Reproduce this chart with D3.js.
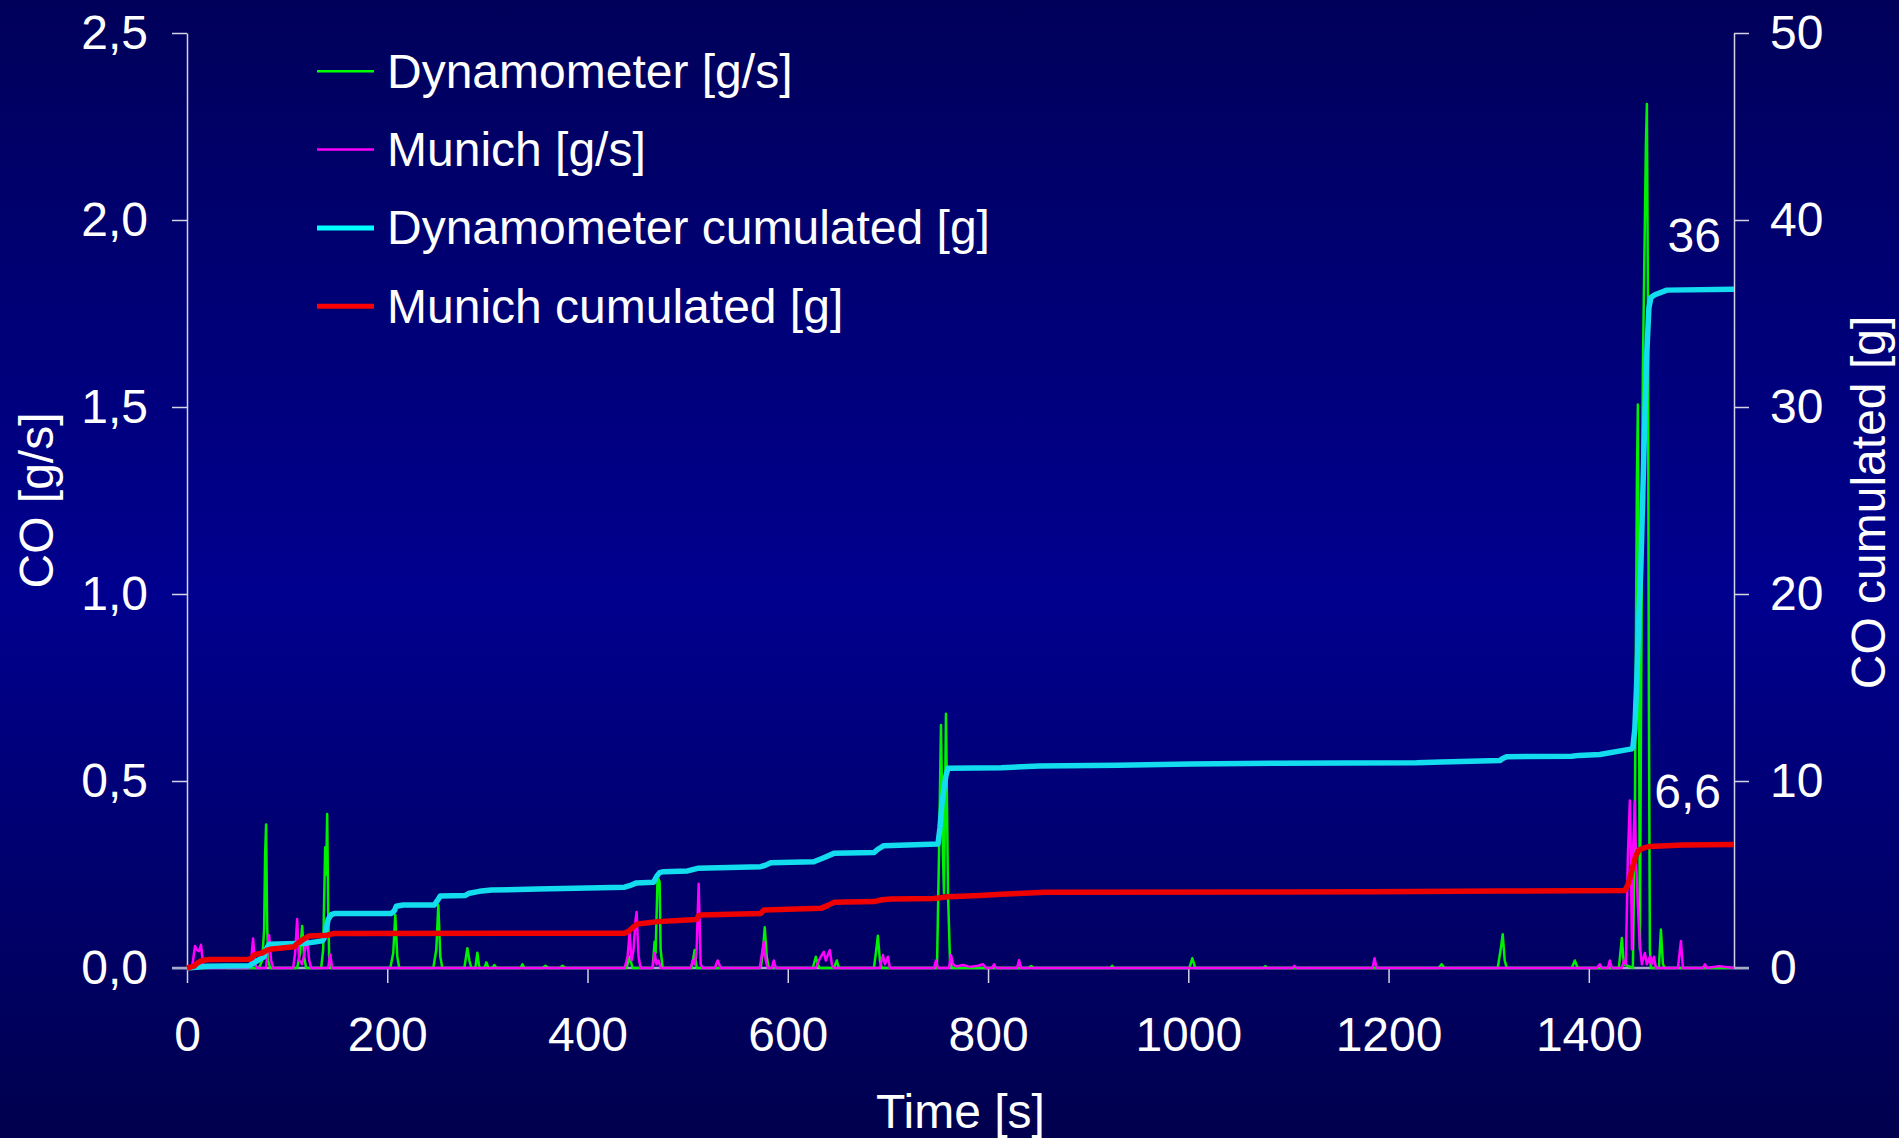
<!DOCTYPE html>
<html>
<head>
<meta charset="utf-8">
<title>CO emissions – Dynamometer vs. Munich</title>
<script src="https://cdn.jsdelivr.net/npm/d3@7"></script>
<style>
  html, body { margin: 0; padding: 0; background: #000060; overflow: hidden; }
  svg { display: block; }
  text { font-family: "Liberation Sans", Arial, Helvetica, sans-serif; fill: #ffffff; }
</style>
</head>
<body>
<svg id="chart" width="1899" height="1138"></svg>
<script>
// ---- data -------------------------------------------------------------
const timeTicks = [0, 200, 400, 600, 800, 1000, 1200, 1400];
const rateTicks = [0, 0.5, 1.0, 1.5, 2.0, 2.5];
const cumTicks  = [0, 10, 20, 30, 40, 50];

const legendLabels = [
  "Dynamometer [g/s]",
  "Munich [g/s]",
  "Dynamometer cumulated [g]",
  "Munich cumulated [g]"
];

// [time s, CO g/s]
const dynamometerRate = [
  [0,0],[20,0],[30,0.004],[40,0],
  [72,0],[75,0.02],[77,0.1],[78,0.3],[79,0.384],[80,0.12],[81,0.02],[83,0],
  [110,0],[113,0.04],[115,0.112],[117,0.03],[119,0],
  [134,0],[136,0.05],[138,0.323],[139,0.25],[140,0.412],[141,0.15],[142,0.03],[144,0],
  [203,0],[206,0.04],[208,0.142],[210,0.03],[212,0],
  [246,0],[249,0.05],[251,0.168],[253,0.03],[255,0],
  [277,0],[280,0.053],[282,0.02],[284,0],
  [288,0],[290,0.041],[292,0],
  [297,0],[299,0.015],[301,0],[305,0],[307,0.008],[309,0],
  [333,0],[335,0.01],[337,0],
  [355,0],[358,0.006],[361,0],[372,0],[375,0.006],[378,0],
  [439,0],[442,0.03],[445,0],
  [465,0],[467,0.07],[468,0.04],[470,0.244],[472,0.23],[473,0.05],[475,0],
  [504,0],[507,0.048],[509,0],
  [573,0],[575,0.04],[577,0.109],[579,0.03],[581,0],
  [625,0],[628,0.03],[630,0.01],[632,0],
  [646,0],[649,0.02],[651,0],
  [686,0],[688,0.04],[690,0.086],[692,0.02],[694,0],
  [749,0],[751,0.3],[753,0.65],[755,0.3],[756,0.2],[758,0.68],[760,0.2],[762,0.02],[764,0],
  [840,0],[843,0.005],[846,0],
  [922,0],[924,0.006],[926,0],
  [1001,0],[1004,0.026],[1007,0],
  [1075,0],[1077,0.005],[1079,0],
  [1250,0],[1253,0.01],[1256,0],
  [1309,0],[1312,0.05],[1314,0.09],[1316,0.02],[1318,0],
  [1383,0],[1386,0.02],[1389,0],
  [1430,0],[1433,0.08],[1435,0.01],[1444,0],[1446,0.4],[1448,1.3],[1449,1.507],[1450,0.9],
  [1451,0.05],[1452,0.6],[1454,1.6],[1457,2.2],[1458,2.31],[1459,1.8],[1460,0.7],[1461,0.05],[1462,0],
  [1470,0],[1472,0.103],[1474,0.01],[1476,0],
  [1545,0]
];

// [time s, CO g/s]
const munichRate = [
  [0,0],[5,0],[8,0.059],[10,0.048],[12,0.045],[14,0.062],[16,0.01],[18,0],
  [62,0],[64,0.02],[66,0.079],[68,0.01],[70,0],
  [79,0],[81,0.06],[82,0.088],[84,0.02],[86,0],
  [106,0],[108,0.04],[110,0.131],[112,0.02],[115,0.01],[118,0.05],[120,0.08],[122,0.02],[124,0],
  [141,0],[143,0.037],[145,0],
  [437,0],[440,0.03],[442,0.093],[444,0.02],[446,0.05],[448,0.13],[449,0.15],[451,0.03],[453,0],
  [465,0],[467,0.04],[469,0.01],[471,0.02],[473,0],
  [503,0],[505,0.02],[507,0.01],[509,0.05],[511,0.225],[513,0.01],[515,0],
  [527,0],[530,0.02],[533,0],
  [572,0],[576,0.07],[578,0.02],[580,0],[584,0],[586,0.02],[588,0],
  [628,0],[631,0.02],[633,0.03],[636,0.043],[638,0.02],[640,0.035],[642,0.048],[644,0.01],[646,0],
  [692,0],[695,0.035],[697,0.01],[700,0.03],[702,0],
  [746,0],[748,0.02],[750,0],[761,0],[763,0.035],[765,0.01],[768,0.004],[775,0.008],[782,0.003],
  [790,0.006],[795,0.01],[798,0],[804,0],[806,0.01],[808,0],[829,0],[831,0.021],[833,0],
  [1104,0],[1106,0.006],[1108,0],
  [1184,0],[1186,0.026],[1188,0],
  [1408,0],[1411,0.01],[1413,0],[1419,0],[1421,0.02],[1423,0],
  [1433,0],[1435,0.02],[1437,0.01],[1439,0.3],[1441,0.448],[1442,0.3],[1443,0.05],[1444,0.3],
  [1446,0.445],[1447,0.3],[1449,0.164],[1451,0.06],[1453,0.01],[1456,0.04],[1458,0.01],
  [1461,0.03],[1463,0.01],[1465,0.03],[1467,0],
  [1489,0],[1492,0.072],[1494,0],
  [1514,0],[1516,0.01],[1518,0],[1530,0.005],[1545,0]
];

// [time s, cumulated CO g]
const dynamometerCum = [
  [0,0],[12,0.05],[20,0.1],[62,0.12],[66,0.25],[72,0.45],[77,0.6],[79,1.0],[82,1.27],
  [120,1.33],[135,1.45],[137,1.6],[139,2.1],[141,2.6],[144,2.85],[148,2.92],
  [204,2.92],[207,3.05],[209,3.3],[216,3.37],[247,3.37],[250,3.6],[253,3.85],
  [278,3.88],[282,4.0],[292,4.1],[304,4.17],[350,4.22],[400,4.28],[437,4.32],
  [442,4.4],[449,4.55],[466,4.58],[469,4.9],[472,5.1],[476,5.15],[500,5.19],[510,5.33],
  [573,5.42],[578,5.5],[583,5.63],[626,5.68],[636,5.9],[646,6.13],[686,6.17],[690,6.35],
  [696,6.54],[750,6.63],[752,7.5],[754,8.8],[756,9.6],[758,10.3],[760,10.68],
  [813,10.71],[851,10.8],[930,10.84],[1002,10.91],[1090,10.95],[1228,10.98],[1253,11.02],
  [1311,11.09],[1314,11.2],[1318,11.3],[1383,11.32],[1390,11.37],[1411,11.42],[1443,11.72],
  [1444,11.8],[1446,12.8],[1448,15.5],[1450,18.8],[1452,21.5],[1454,25.5],[1456,29.5],
  [1458,33.0],[1460,35.3],[1462,35.85],[1466,36.0],[1478,36.25],[1545,36.3]
];

// [time s, cumulated CO g]
const munichCum = [
  [0,0],[7,0.1],[10,0.25],[14,0.38],[18,0.43],[23,0.45],[62,0.47],[65,0.55],[67,0.7],
  [75,0.8],[80,0.96],[83,1.0],[107,1.14],[110,1.3],[113,1.41],[118,1.6],[122,1.71],
  [140,1.75],[147,1.85],[437,1.86],[442,2.0],[446,2.2],[450,2.35],[470,2.48],[500,2.57],
  [509,2.6],[511,2.8],[513,2.83],[573,2.92],[576,3.1],[633,3.19],[640,3.35],[646,3.51],
  [686,3.55],[694,3.65],[703,3.69],[746,3.72],[760,3.81],[792,3.88],[813,3.94],[830,3.99],
  [857,4.05],[1184,4.08],[1311,4.12],[1436,4.14],[1439,4.45],[1441,4.8],[1444,5.43],
  [1447,6.0],[1450,6.3],[1455,6.42],[1461,6.5],[1494,6.58],[1545,6.6]
];

// ---- layout -----------------------------------------------------------
const W = 1899, H = 1138;
const plot = { left: 187, right: 1734, top: 33, bottom: 968 };
const FONT = 48;

const svg = d3.select("#chart");

// comma decimal separator
const loc = d3.formatLocale({ decimal: ",", thousands: ".", grouping: [3], currency: ["", " €"] });
const fmtRate = loc.format(".1f");
const fmtCum = loc.format("d");
const fmtTotal = loc.format(".2r");

// background gradient
const defs = svg.append("defs");
const grad = defs.append("linearGradient")
  .attr("id", "bg").attr("x1", 0).attr("y1", 0).attr("x2", 0).attr("y2", 1);
grad.append("stop").attr("offset", "0%").attr("stop-color", "#00005a");
grad.append("stop").attr("offset", "52%").attr("stop-color", "#00008f");
grad.append("stop").attr("offset", "100%").attr("stop-color", "#00004e");
svg.append("rect").attr("width", W).attr("height", H).attr("fill", "url(#bg)");

// scales
const x = d3.scaleLinear().domain([0, 1545]).range([plot.left, plot.right]);
const yRate = d3.scaleLinear().domain([0, 2.5]).range([plot.bottom, plot.top]);
const yCum = d3.scaleLinear().domain([0, 50]).range([plot.bottom, plot.top]);

// axes
const axisColor = "#d4d4e4";

const gLeft = svg.append("g").attr("transform", `translate(${plot.left},0)`)
  .call(d3.axisLeft(yRate).tickValues(rateTicks).tickFormat(fmtRate)
    .tickSize(15).tickSizeOuter(0).tickPadding(24));
const gRight = svg.append("g").attr("transform", `translate(${plot.right},0)`)
  .call(d3.axisRight(yCum).tickValues(cumTicks).tickFormat(fmtCum)
    .tickSize(15).tickSizeOuter(0).tickPadding(21));
const gBottom = svg.append("g").attr("transform", `translate(0,${plot.bottom})`)
  .call(d3.axisBottom(x).tickValues(timeTicks).tickFormat(d3.format("d"))
    .tickSize(15).tickSizeOuter(0).tickPadding(34));

[gLeft, gRight, gBottom].forEach(g => {
  g.selectAll(".domain").attr("stroke", axisColor).attr("stroke-width", 1.5);
  g.selectAll(".tick line").attr("stroke", axisColor).attr("stroke-width", 1.5);
  g.selectAll(".tick text")
    .attr("fill", "#ffffff")
    .style("font-family", '"Liberation Sans", Arial, Helvetica, sans-serif')
    .style("font-size", FONT + "px");
});
gBottom.select(".domain").remove();

// horizontal base line spanning both outer ticks
svg.append("line")
  .attr("x1", plot.left - 15).attr("x2", plot.right + 15)
  .attr("y1", plot.bottom).attr("y2", plot.bottom)
  .attr("stroke", "#a8a8c8").attr("stroke-width", 2.5);

// axis titles
svg.append("text")
  .attr("transform", `translate(${(plot.left + plot.right) / 2},1128)`)
  .attr("text-anchor", "middle").style("font-size", FONT + "px")
  .text("Time [s]");
svg.append("text")
  .attr("transform", `translate(53,${(plot.top + plot.bottom) / 2}) rotate(-90)`)
  .attr("text-anchor", "middle").style("font-size", FONT + "px")
  .text("CO [g/s]");
svg.append("text")
  .attr("transform", `translate(1885,${(plot.top + plot.bottom) / 2 + 2}) rotate(-90)`)
  .attr("text-anchor", "middle").style("font-size", FONT + "px")
  .text("CO cumulated [g]");

// series
const series = [
  { data: dynamometerRate, y: yRate, color: "#00f000", width: 2.5 },
  { data: munichRate,      y: yRate, color: "#ff00ff", width: 2.5 },
  { data: dynamometerCum,  y: yCum,  color: "#12dcee", width: 5.5 },
  { data: munichCum,       y: yCum,  color: "#ee0000", width: 5.5 }
];
const legendColors = ["#00ff00", "#ff00ff", "#00ffff", "#ff0000"];
const legendWidths = [2.5, 2.5, 5, 5];

const gLines = svg.append("g");
series.forEach(s => {
  const line = d3.line().x(d => x(d[0])).y(d => s.y(d[1]));
  gLines.append("path")
    .datum(s.data)
    .attr("d", line)
    .attr("fill", "none")
    .attr("stroke", s.color)
    .attr("stroke-width", s.width)
    .attr("stroke-linejoin", "round")
    .attr("stroke-linecap", "butt");
});

// total labels at the end of the cumulated curves
[dynamometerCum, munichCum].forEach(d => {
  const last = d[d.length - 1];
  svg.append("text")
    .attr("x", x(last[0]) - 13)
    .attr("y", yCum(last[1]) - 37)
    .attr("text-anchor", "end")
    .style("font-size", FONT + "px")
    .text(fmtTotal(last[1]));
});

// legend
const legend = svg.append("g");
legendLabels.forEach((label, i) => {
  const cy = 71.3 + i * 78.3;
  legend.append("line")
    .attr("x1", 317).attr("x2", 374).attr("y1", cy).attr("y2", cy)
    .attr("stroke", legendColors[i]).attr("stroke-width", legendWidths[i]);
  legend.append("text")
    .attr("x", 387).attr("y", cy + 16.5)
    .style("font-size", FONT + "px")
    .text(label);
});
</script>
</body>
</html>
